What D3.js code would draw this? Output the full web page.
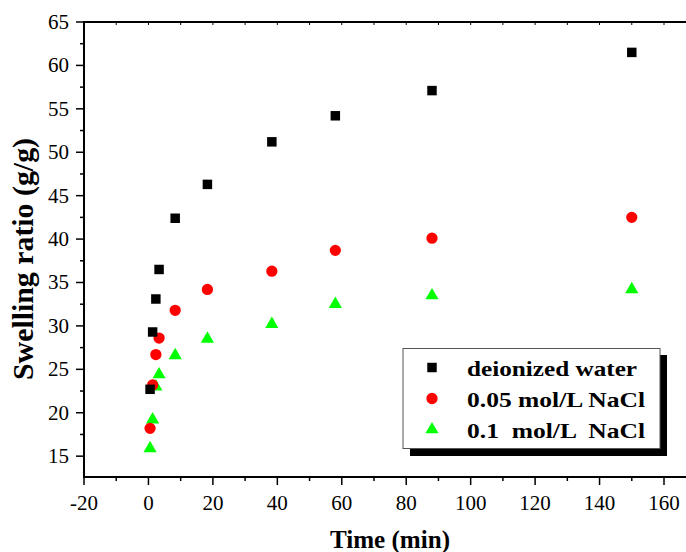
<!DOCTYPE html>
<html>
<head>
<meta charset="utf-8">
<script src="https://d3js.org/d3.v7.min.js"></script>
<style>
  body { margin: 0; background: #fff; }
</style>
</head>
<body>
<script>
// time points (min) and swelling ratio (g/g) for each medium
var times = [0.5, 1.3, 2.3, 3.3, 8.3, 18.3, 38.3, 58, 88, 150];
var water = [22.7, 29.3, 33.1, 36.5, 42.4, 46.3, 51.2, 54.2, 57.1, 61.5];
var nacl005 = [18.2, 23.2, 26.7, 28.6, 31.8, 34.2, 36.3, 38.7, 40.1, 42.5];
var nacl01 = [15.9, 19.2, 23.0, 24.4, 26.6, 28.5, 30.2, 32.5, 33.5, 34.2];
var seriesNames = ["deionized water", "0.05 mol/L NaCl", "0.1  mol/L  NaCl"];
var xTicks = [-20, 0, 20, 40, 60, 80, 100, 120, 140, 160];
var yTicks = [15, 20, 25, 30, 35, 40, 45, 50, 55, 60, 65];

var width = 686, height = 552;
var font = "'Liberation Serif', 'Times New Roman', serif";

var svg = d3.select("body").append("svg")
    .attr("width", width)
    .attr("height", height)
    .style("font-family", font);

var x = d3.scaleLinear().domain([-20, 160]).range([84, 664]);
var y = d3.scaleLinear().domain([12.6, 65]).range([477, 22]);

// left axis ticks
var yMinor = d3.range(12.5, 65.1, 2.5).filter(d => d >= 12.6 && d % 5 != 0);
svg.selectAll("line.ymin").data(yMinor).enter().append("line")
    .attr("x1", 80).attr("x2", 84)
    .attr("y1", d => y(d)).attr("y2", d => y(d))
    .style("stroke", "#000").style("stroke-width", 1.5);
svg.selectAll("line.ymaj").data(yTicks).enter().append("line")
    .attr("x1", 76).attr("x2", 84)
    .attr("y1", d => y(d)).attr("y2", d => y(d))
    .style("stroke", "#000").style("stroke-width", 1.5);
svg.selectAll("text.ylab").data(yTicks).enter().append("text")
    .attr("x", 69).attr("y", d => y(d) + 7)
    .style("text-anchor", "end")
    .style("font-family", font)
    .style("font-size", "21px")
    .text(d => d);

// bottom axis ticks
var xMinor = d3.range(-10, 171, 20);
svg.selectAll("line.xmin").data(xMinor).enter().append("line")
    .attr("x1", d => x(d)).attr("x2", d => x(d))
    .attr("y1", 477).attr("y2", 481)
    .style("stroke", "#000").style("stroke-width", 1.5);
svg.selectAll("line.xmaj").data(xTicks).enter().append("line")
    .attr("x1", d => x(d)).attr("x2", d => x(d))
    .attr("y1", 477).attr("y2", 485)
    .style("stroke", "#000").style("stroke-width", 1.5);
svg.selectAll("text.xlab").data(xTicks).enter().append("text")
    .attr("x", d => x(d)).attr("y", 510)
    .style("text-anchor", "middle")
    .style("font-family", font)
    .style("font-size", "21px")
    .text(d => d);

// top axis: small inward ticks
svg.selectAll("line.xtop").data(d3.range(-10, 171, 10)).enter().append("line")
    .attr("x1", d => x(d)).attr("x2", d => x(d))
    .attr("y1", 22).attr("y2", 25)
    .style("stroke", "#000").style("stroke-width", 1);

// frame
svg.append("path")
    .attr("d", "M690,22H84V477H690")
    .style("fill", "none")
    .style("stroke", "#000")
    .style("stroke-width", 2);

// axis titles
svg.append("text")
    .attr("x", 390).attr("y", 548)
    .style("text-anchor", "middle")
    .style("font-family", font)
    .style("font-weight", "bold")
    .style("font-size", "25px")
    .attr("textLength", 120)
    .attr("lengthAdjust", "spacingAndGlyphs")
    .text("Time (min)");

svg.append("text")
    .attr("transform", "translate(33,259) rotate(-90)")
    .style("text-anchor", "middle")
    .style("font-family", font)
    .style("font-weight", "bold")
    .style("font-size", "29px")
    .attr("textLength", 242)
    .attr("lengthAdjust", "spacingAndGlyphs")
    .text("Swelling ratio (g/g)");

// data
var series = [
  { name: seriesNames[0], values: water, colour: "#000000", shape: d3.symbolSquare, size: 90, w: 170 },
  { name: seriesNames[1], values: nacl005, colour: "#ff0000", shape: d3.symbolCircle, size: 100, w: 178 },
  { name: seriesNames[2], values: nacl01, colour: "#00ff00", shape: d3.symbolTriangle, size: 75, w: 178 }
];

series.slice().reverse().forEach(function(s) {
  svg.selectAll(null)
    .data(times.map((t, i) => [t, s.values[i]]))
    .enter()
    .append("path")
    .attr("transform", d => `translate(${x(d[0])},${y(d[1])})`)
    .attr("d", d3.symbol().type(s.shape).size(s.size))
    .style("fill", s.colour);
});

// legend with shadow
svg.append("rect")
    .attr("x", 410).attr("y", 355)
    .attr("width", 257).attr("height", 101)
    .style("fill", "#000");
svg.append("rect")
    .attr("x", 403).attr("y", 348.5)
    .attr("width", 257).attr("height", 100)
    .style("fill", "#fff")
    .style("stroke", "#555")
    .style("stroke-width", 1);

series.forEach(function(s, i) {
  var ly = 367.5 + i * 31;
  svg.append("path")
    .attr("transform", `translate(432,${ly})`)
    .attr("d", d3.symbol().type(s.shape).size(s.size))
    .style("fill", s.colour);
  svg.append("text")
    .attr("x", 467).attr("y", ly + 8)
    .style("font-family", font)
    .style("font-weight", "bold")
    .style("font-size", "22px")
    .style("white-space", "pre")
    .attr("textLength", s.w)
    .attr("lengthAdjust", "spacingAndGlyphs")
    .text(s.name);
});
</script>
</body>
</html>
